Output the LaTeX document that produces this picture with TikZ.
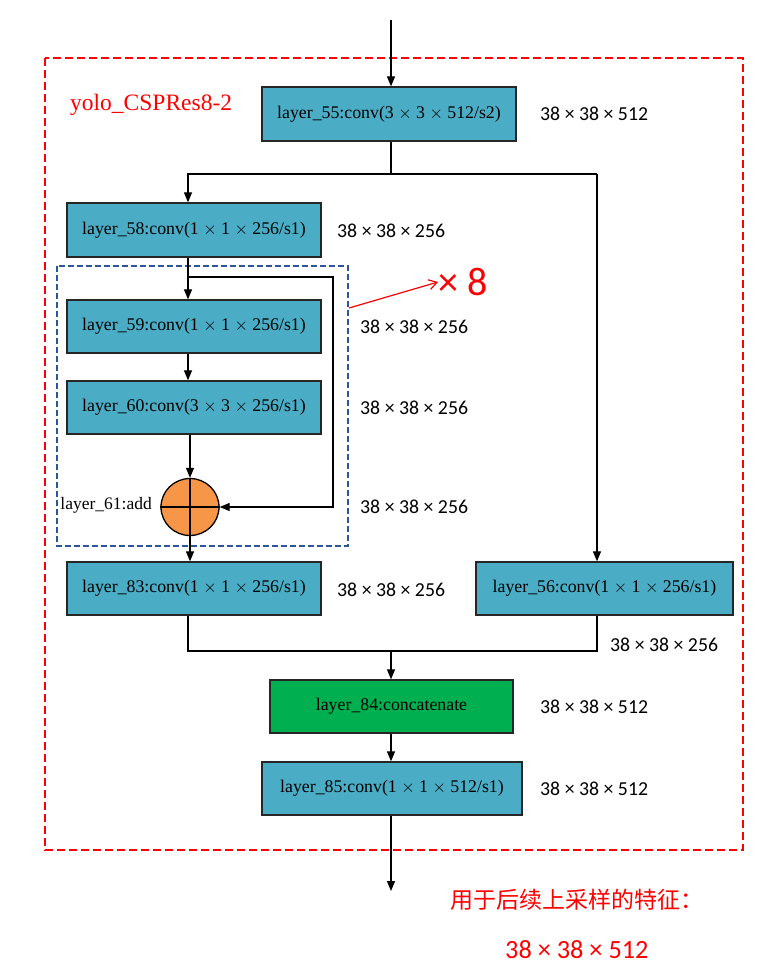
\documentclass[tikz,border=0pt]{standalone}
\usepackage{fontspec}
\setmainfont{Liberation Serif}
\newfontfamily\lblfont{Carlito}
\newfontfamily\cjk{Noto Sans CJK SC}
\usetikzlibrary{arrows.meta,shapes.geometric}
\definecolor{boxblue}{HTML}{4BACC6}
\definecolor{boxgreen}{HTML}{00B050}
\definecolor{addorange}{HTML}{F79646}
\definecolor{dashblue}{HTML}{2F5597}
\begin{document}
\begin{tikzpicture}[x=1pt,y=-1pt,
  arr/.style={line width=1.2pt,-{Triangle[length=10pt,width=8pt]}},
  ln/.style={line width=1.2pt},
  layerbox/.style={draw=black!85,line width=1.3pt,fill=boxblue,inner sep=0pt,
    font=\fontsize{17.8}{20}\selectfont},
  dimlbl/.style={anchor=west,inner sep=0pt,font=\lblfont\fontsize{19.8}{22}\selectfont}]
\useasboundingbox (0,0) rectangle (770,980);
% outer red frame
\draw[red,line width=1.8pt,dash pattern=on 8pt off 4pt] (45,58) rectangle (743,850);
\node[red,anchor=west,inner sep=0pt,font=\fontsize{23.5}{25}\selectfont] (title) at (70,105) {yolo\_CSPRes8-2};
% blue dashed frame
\draw[dashblue,line width=1.6pt,dash pattern=on 6pt off 3pt] (57,266) rectangle (348,546);

% boxes
\node[layerbox,minimum width=254pt,minimum height=54pt] (l55) at (389,114) {layer\_55:conv(3 $\times$ 3 $\times$ 512/s2)};
\node[layerbox,minimum width=254pt,minimum height=54pt] (l58) at (194,230) {layer\_58:conv(1 $\times$ 1 $\times$ 256/s1)};
\node[layerbox,minimum width=254pt,minimum height=53pt] (l59) at (194,326.5) {layer\_59:conv(1 $\times$ 1 $\times$ 256/s1)};
\node[layerbox,minimum width=254pt,minimum height=53pt] (l60) at (194,407.5) {layer\_60:conv(3 $\times$ 3 $\times$ 256/s1)};
\node[draw=black,line width=1.3pt,fill=addorange,ellipse,minimum width=58pt,minimum height=57pt,inner sep=0pt] (add) at (190,507) {};
\node[anchor=east,inner sep=0pt,font=\fontsize{17.5}{19}\selectfont] (addlbl) at (152,505) {layer\_61:add};
\node[layerbox,minimum width=254pt,minimum height=53pt] (l83) at (194,588.5) {layer\_83:conv(1 $\times$ 1 $\times$ 256/s1)};
\node[layerbox,minimum width=257pt,minimum height=53pt] (l56) at (604.5,588.5) {layer\_56:conv(1 $\times$ 1 $\times$ 256/s1)};
\node[layerbox,fill=boxgreen,minimum width=243pt,minimum height=53pt] (l84) at (391.5,706.5) {layer\_84:concatenate};
\node[layerbox,minimum width=260pt,minimum height=53pt] (l85) at (392,788.5) {layer\_85:conv(1 $\times$ 1 $\times$ 512/s1)};

% cross in add
\draw[ln] (add.north) -- (add.south);
\draw[ln] (add.west) -- (add.east);

% dimension labels
\node[dimlbl] (d55) at (540,114) {38 × 38 × 512};
\node[dimlbl] (d58) at (337,231) {38 × 38 × 256};
\node[dimlbl] (d59) at (360,327) {38 × 38 × 256};
\node[dimlbl] (d60) at (360,408) {38 × 38 × 256};
\node[dimlbl] (d61) at (360,507) {38 × 38 × 256};
\node[dimlbl] (d83) at (337,590) {38 × 38 × 256};
\node[dimlbl] (d56) at (610,645) {38 × 38 × 256};
\node[dimlbl] (d84) at (540,707) {38 × 38 × 512};
\node[dimlbl] (d85) at (540,789) {38 × 38 × 512};

% x8
\node[red,anchor=west,inner sep=0pt,font=\lblfont\fontsize{40}{42}\selectfont] (x8) at (438,282) {× 8};
\coordinate (x8s) at (349,308);
\draw[red,line width=1.2pt,-{Straight Barb[length=8pt,width=10pt]}] (x8s) -- (x8.west);

% connectors
\coordinate (top) at (391,20);
\draw[arr] (top) -- (l55.north -| top);
\coordinate (jl) at (188,174);
\coordinate (jr) at (597,174);
\coordinate (jm) at (391,174);
\draw[ln] (l55.south -| jm) -- (jm);
\draw[arr] (jr) -- (jl) -- (l58.north -| jl);
\draw[arr] (jr) -- (jr |- l56.north);
\coordinate (lp) at (188,277);
\coordinate (lpr) at (333,277);
\coordinate (lpb) at (333,507);
\draw[arr] (l58.south -| lp) -- (l59.north -| lp);
\draw[arr] (lp) -- (lpr) -- (lpb) -- (add.east);
\draw[arr] (l59.south -| lp) -- (l60.north -| lp);
\draw[arr] (l60.south -| add) -- (add.north);
\draw[arr] (add.south) -- (l83.north -| add);
\coordinate (jb) at (391,651);
\draw[ln] (l83.south -| jl) |- (jb);
\draw[ln] (l56.south -| jr) |- (jb);
\draw[arr] (jb) -- (l84.north -| jb);
\draw[arr] (l84.south -| jb) -- (l85.north -| jb);
\coordinate (out) at (391,891);
\draw[arr] (l85.south -| out) -- (out);

% output text
\node[red,inner sep=0pt,anchor=west,font=\cjk\fontsize{23}{25}\selectfont] (cn) at (450,900) {用于后续上采样的特征：};
\node[red,inner sep=0pt,anchor=west,font=\lblfont\fontsize{26.3}{28}\selectfont] (outdim) at (505,950) {38 × 38 × 512};
\end{tikzpicture}
\end{document}
